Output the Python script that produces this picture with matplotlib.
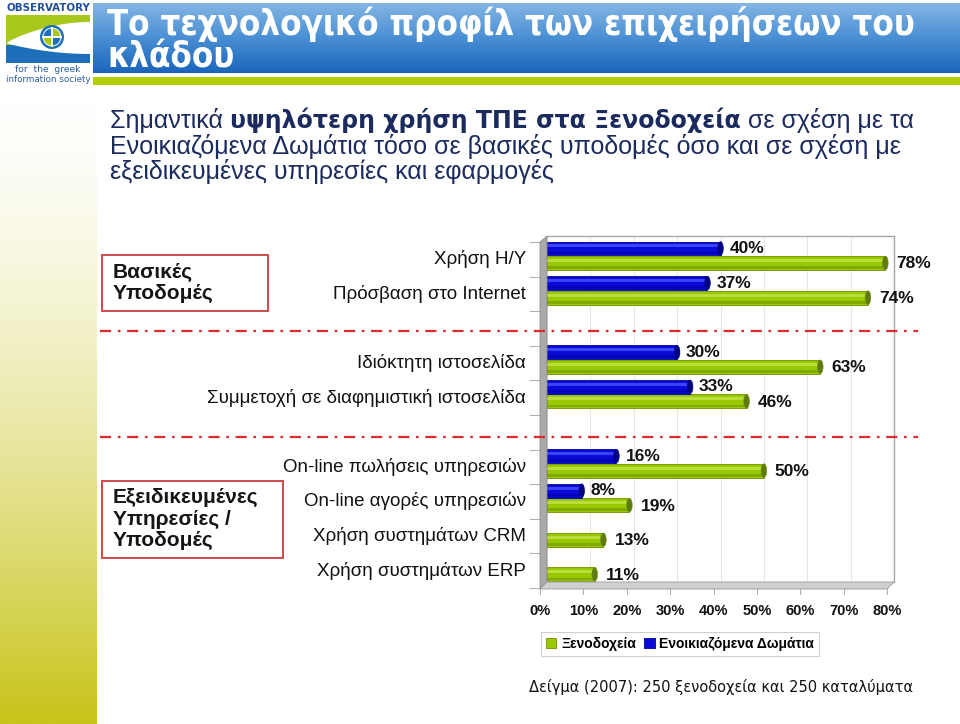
import numpy as np
import matplotlib
matplotlib.use("Agg")
import matplotlib.pyplot as plt
from matplotlib.patches import Rectangle, Polygon, Ellipse, Circle, Wedge
from matplotlib.transforms import ScaledTranslation, blended_transform_factory
from matplotlib.colors import LinearSegmentedColormap
from matplotlib.text import Annotation
from matplotlib import font_manager

# ---------------- data ----------------
categories = ["Χρήση Η/Υ", "Πρόσβαση στο Internet",
              "Ιδιόκτητη ιστοσελίδα", "Συμμετοχή σε διαφημιστική ιστοσελίδα",
              "On-line πωλήσεις υπηρεσιών", "On-line αγορές υπηρεσιών",
              "Χρήση συστημάτων CRM", "Χρήση συστημάτων ERP"]
group_of = [0, 0, 1, 1, 2, 2, 2, 2]
hotels = [78, 74, 63, 46, 50, 19, 13, 11]
rooms = [40, 37, 30, 33, 16, 8, None, None]
series_names = ["Ξενοδοχεία", "Ενοικιαζόμενα Δωμάτια"]
xticks = [0, 10, 20, 30, 40, 50, 60, 70, 80]
group_titles = ["Βασικές\nΥποδομές", "Εξειδικευμένες\nΥπηρεσίες /\nΥποδομές"]

title_lines = ["Το τεχνολογικό προφίλ των επιχειρήσεων του", "κλάδου"]
sub_pieces_line1 = [("Σημαντικά ", "normal"),
                    ("υψηλότερη χρήση ΤΠΕ στα Ξενοδοχεία", "bold"),
                    (" σε σχέση με τα", "normal")]
sub_line2 = "Ενοικιαζόμενα Δωμάτια τόσο σε βασικές υποδομές όσο και σε σχέση με"
sub_line3 = "εξειδικευμένες υπηρεσίες και εφαρμογές"
footer = "Δείγμα (2007): 250 ξενοδοχεία και 250 καταλύματα"

# ---------------- fonts ----------------
fonts = font_manager.fontManager.ttflist
names = {f.name for f in fonts}
SANS = "Liberation Sans" if "Liberation Sans" in names else "DejaVu Sans"
if "Liberation Sans Narrow" in names:
    TITLE_FONT = dict(family=["Liberation Sans Narrow", "DejaVu Sans"])
elif any(f.name == "DejaVu Sans" and f.stretch == "condensed" for f in fonts):
    TITLE_FONT = dict(family=["DejaVu Sans"], stretch="condensed")
else:
    TITLE_FONT = dict(family=[SANS, "DejaVu Sans"])
plt.rcParams["font.family"] = [SANS, "DejaVu Sans"]

W, H = 960, 724
fig = plt.figure(figsize=(9.6, 7.24), dpi=100)
fig.patch.set_facecolor("white")
renderer = fig.canvas.get_renderer()


def fx(x):
    return x / W


def fy(y):
    return 1 - y / H


def off(dx, dy):
    # pixel offset, dy positive = downwards
    return ScaledTranslation(dx / 100, -dy / 100, fig.dpi_scale_trans)


# ---------------- background decorations ----------------
bg = fig.add_axes([0, 0, fx(97), fy(88)], zorder=0)
grad = np.linspace(0, 1, 256) ** 1.5
cm_strip = LinearSegmentedColormap.from_list("strip", ["#ffffff", "#c8c41a"])
bg.imshow(grad[:, None], aspect="auto", cmap=cm_strip, extent=[0, 1, 0, 1], origin="upper")
bg.axis("off")

tb = fig.add_axes([fx(93), fy(73), fx(960 - 93), (73 - 3) / H], zorder=0)
cm_title = LinearSegmentedColormap.from_list("tb", ["#84b6e4", "#4a8fd4", "#1a64bb"])
tb.imshow(np.linspace(0, 1, 256)[:, None], aspect="auto", cmap=cm_title,
          extent=[0, 1, 0, 1], origin="upper")
tb.axis("off")
fig.patches.append(Rectangle((fx(93), fy(85)), fx(960 - 93), 8 / H,
                             transform=fig.transFigure, facecolor="#b2d000",
                             edgecolor="none", zorder=1))

t1 = fig.text(fx(107), fy(35), title_lines[0], weight="bold", size=24, color="white",
              va="baseline", ha="left", zorder=5, **TITLE_FONT)
t2 = fig.text(fx(107), fy(68), title_lines[1], weight="bold", size=24, color="white",
              va="baseline", ha="left", zorder=5, **TITLE_FONT)
# fit the title width to the banner as in the original slide
wpx = t1.get_window_extent(renderer).width
new_size = min(30, 24 * 808 / wpx)
t1.set_fontsize(new_size)
t2.set_fontsize(new_size)

# ---------------- logo ----------------
lg = fig.add_axes([0, fy(88), fx(95), 88 / H], zorder=2)
lg.set_xlim(0, 95)
lg.set_ylim(88, 0)
lg.axis("off")
lg.text(48, 8, "OBSERVATORY", ha="center", va="center", color="#1f4f9c",
        weight="bold", size=7.4, family="DejaVu Sans")
lg.add_patch(Rectangle((6, 15), 84, 30, facecolor="#a8c81e", edgecolor="none"))
lg.add_patch(Rectangle((6, 45), 84, 18, facecolor="#1e6fb9", edgecolor="none"))
t = np.linspace(0, 1, 60)
top_x = 7 + 83 * t
top_y = 43 - 21 * np.sin(t * np.pi / 2) ** 0.8
bot_x = 90 - 83 * t
bot_y = 43 + 11 * np.sin((1 - t) * np.pi / 2) ** 0.8
lg.add_patch(Polygon(np.column_stack([np.r_[top_x, bot_x], np.r_[top_y, bot_y]]),
                     facecolor="white", edgecolor="none"))
cx, cy, r = 52, 37, 12
lg.add_patch(Circle((cx, cy), r, facecolor="#1e6fb9", edgecolor="none"))
lg.add_patch(Circle((cx, cy), r - 2.5, facecolor="white", edgecolor="none"))
lg.add_patch(Wedge((cx, cy), r - 3.5, 90, 180, facecolor="#a8c81e"))
lg.add_patch(Wedge((cx, cy), r - 3.5, 270, 360, facecolor="#a8c81e"))
lg.add_patch(Wedge((cx, cy), r - 3.5, 0, 90, facecolor="#1e6fb9"))
lg.add_patch(Wedge((cx, cy), r - 3.5, 180, 270, facecolor="#1e6fb9"))
lg.plot([cx - r + 3, cx + r - 3], [cy, cy], color="white", lw=1.4)
lg.plot([cx, cx], [cy - r + 3, cy + r - 3], color="white", lw=1.4)
lg.text(48, 70, "for  the  greek", ha="center", va="center", color="#2a5f9e",
        size=6.6, family="DejaVu Sans")
lg.text(48, 79, "information society", ha="center", va="center", color="#2a5f9e",
        size=6.3, family="DejaVu Sans")

# ---------------- subtitle ----------------
SUB_COLOR = "#1c2b5e"
SUB_SIZE = 18
piece_font = {"normal": dict(size=SUB_SIZE, family=[SANS, "DejaVu Sans"]),
              "bold": dict(size=SUB_SIZE - 1, family=["DejaVu Sans"])}
first_txt, first_wt = sub_pieces_line1[0]
prev = fig.text(fx(110), fy(128), first_txt, color=SUB_COLOR, weight=first_wt,
                va="baseline", **piece_font[first_wt])
for txt, wt in sub_pieces_line1[1:]:
    a = Annotation(txt, xy=(1, fy(128)), xycoords=(prev, "figure fraction"),
                   color=SUB_COLOR, weight=wt, va="baseline", ha="left",
                   annotation_clip=False, **piece_font[wt])
    fig.add_artist(a)
    prev = a
fig.text(fx(110), fy(154), sub_line2, size=SUB_SIZE, color=SUB_COLOR, va="baseline")
fig.text(fx(110), fy(179), sub_line3, size=SUB_SIZE, color=SUB_COLOR, va="baseline")

# ---------------- chart ----------------
AX_L, AX_R, AX_T, AX_B = 547, 894, 236, 582
ax = fig.add_axes([fx(AX_L), fy(AX_B), fx(AX_R - AX_L), (AX_B - AX_T) / H], zorder=3)
n_slots = len(categories) + 2
ax.set_xlim(0, 80)
ax.set_ylim(n_slots, 0)
ax.set_xticks(xticks)
ax.tick_params(length=0, labelbottom=False, labelleft=False)
ax.set_yticks([])
ax.xaxis.grid(True, color="#e6e6e6", lw=0.8)
ax.set_axisbelow(True)
for s in ["left", "bottom"]:
    ax.spines[s].set_visible(False)
for s in ["top", "right"]:
    ax.spines[s].set_color("#a8a8a8")
    ax.spines[s].set_linewidth(1.0)

slots = np.array([i + g for i, g in enumerate(group_of)])
BH = 0.40
blue_c = slots + 0.36
green_c = slots + 0.78

GREEN = "#99c800"
GREEN_HI = "#c3e34a"
GREEN_DK = "#6f9200"
GREEN_CAP = "#5d7b12"
BLUE = "#0a0ad6"
BLUE_HI = "#4a52ff"
BLUE_DK = "#00009a"
BLUE_CAP = "#000080"


def cyl(yc, vals, base, hi, dk, cap, label):
    v = np.array(vals, dtype=float)
    bars = ax.barh(yc, v, height=BH, color=base, edgecolor=dk, linewidth=0.6,
                   label=label, zorder=3)
    ax.barh(yc - BH * 0.18, v, height=BH * 0.22, color=hi, edgecolor="none",
            alpha=0.8, zorder=4)
    ax.barh(yc + BH * 0.33, v, height=BH * 0.2, color=dk, edgecolor="none",
            alpha=0.55, zorder=4)
    for x, y in zip(v, yc):
        ax.add_patch(Ellipse((x, y), 1.3, BH * 0.98, facecolor=cap,
                             edgecolor=dk, lw=0.4, zorder=5))
    return bars


room_idx = [i for i, r in enumerate(rooms) if r is not None]
room_vals = [rooms[i] for i in room_idx]
g_bars = cyl(green_c, hotels, GREEN, GREEN_HI, GREEN_DK, GREEN_CAP, series_names[0])
b_bars = cyl(blue_c[room_idx], room_vals, BLUE, BLUE_HI, BLUE_DK, BLUE_CAP, series_names[1])

for v, y in zip(hotels, green_c):
    ax.annotate(f"{v}%", xy=(v, y), xytext=(11, -1), textcoords="offset pixels",
                ha="left", va="center", weight="bold", size=12.5, color="#111111",
                annotation_clip=False, zorder=6)
for v, y in zip(room_vals, blue_c[room_idx]):
    ax.annotate(f"{v}%", xy=(v, y), xytext=(9, 0), textcoords="offset pixels",
                ha="left", va="center", weight="bold", size=12.5, color="#111111",
                annotation_clip=False, zorder=6)

# 3D wall and floor (decorative frame)
wall = Polygon([(fx(540), fy(242)), (fx(547), fy(236)), (fx(547), fy(582)),
                (fx(540), fy(589))], closed=True, transform=fig.transFigure,
               facecolor="#a9a9a9", edgecolor="#8c8c8c", lw=0.6, zorder=4)
floor = Polygon([(fx(540), fy(589)), (fx(547), fy(582)), (fx(894), fy(582)),
                 (fx(887), fy(589))], closed=True, transform=fig.transFigure,
                facecolor="#d0d0d0", edgecolor="#9a9a9a", lw=0.6, zorder=4)
fig.patches.extend([wall, floor])

ytr = blended_transform_factory(ax.transAxes, ax.transData) + off(0, 6)
for k in range(n_slots + 1):
    ax.plot([-17 / 347, -7 / 347], [k, k], color="#b0b0b0", lw=0.8,
            transform=ytr, clip_on=False)

for name, s in zip(categories, slots):
    ax.text(-21 / 347, s + 0.5, name, transform=ytr, ha="right", va="center",
            size=13.5, color="#111111", clip_on=False)

xtr = blended_transform_factory(ax.transData, ax.transAxes) + off(-7, 0)
for xv in xticks:
    ax.text(xv, -29 / 346, f"{xv}%", transform=xtr, ha="center", va="center",
            size=10.5, weight="bold", color="#111111", clip_on=False)
    ax.plot([xv, xv], [-7 / 346, -12 / 346], transform=xtr, color="#b0b0b0",
            lw=0.8, clip_on=False)

leg = fig.legend(handles=[g_bars, b_bars], labels=series_names, loc="center",
                 bbox_to_anchor=(fx(680), fy(644)), ncol=2, frameon=True,
                 fancybox=False, edgecolor="#c4c4c4", handlelength=0.75,
                 handleheight=0.75, handletextpad=0.35, columnspacing=0.6,
                 borderpad=0.35, prop={"weight": "bold", "size": 10})
leg.get_frame().set_linewidth(0.8)

for yy in [331, 437]:
    fig.lines.append(plt.Line2D([fx(100), fx(918)], [fy(yy), fy(yy)],
                                transform=fig.transFigure, color="#dd2a2a",
                                lw=1.6, linestyle=(0, (5, 3, 1.2, 3)), zorder=6))

fig.patches.append(Rectangle((fx(102), fy(311)), fx(268 - 102), (311 - 255) / H,
                             transform=fig.transFigure, facecolor="none",
                             edgecolor="#cf4a4a", lw=1.4, zorder=6))
fig.text(fx(113), fy(283), group_titles[0], size=15, weight="bold",
         color="#151515", va="center", ha="left", linespacing=1.15)
fig.patches.append(Rectangle((fx(102), fy(558)), fx(283 - 102), (558 - 481) / H,
                             transform=fig.transFigure, facecolor="none",
                             edgecolor="#cf4a4a", lw=1.4, zorder=6))
fig.text(fx(113), fy(519), group_titles[1], size=15, weight="bold",
         color="#151515", va="center", ha="left", linespacing=1.15)

fig.text(fx(529), fy(687), footer, size=10.5, family=["DejaVu Sans"],
         color="#111111", va="center", ha="left")

fig.savefig("out.png", dpi=100)
